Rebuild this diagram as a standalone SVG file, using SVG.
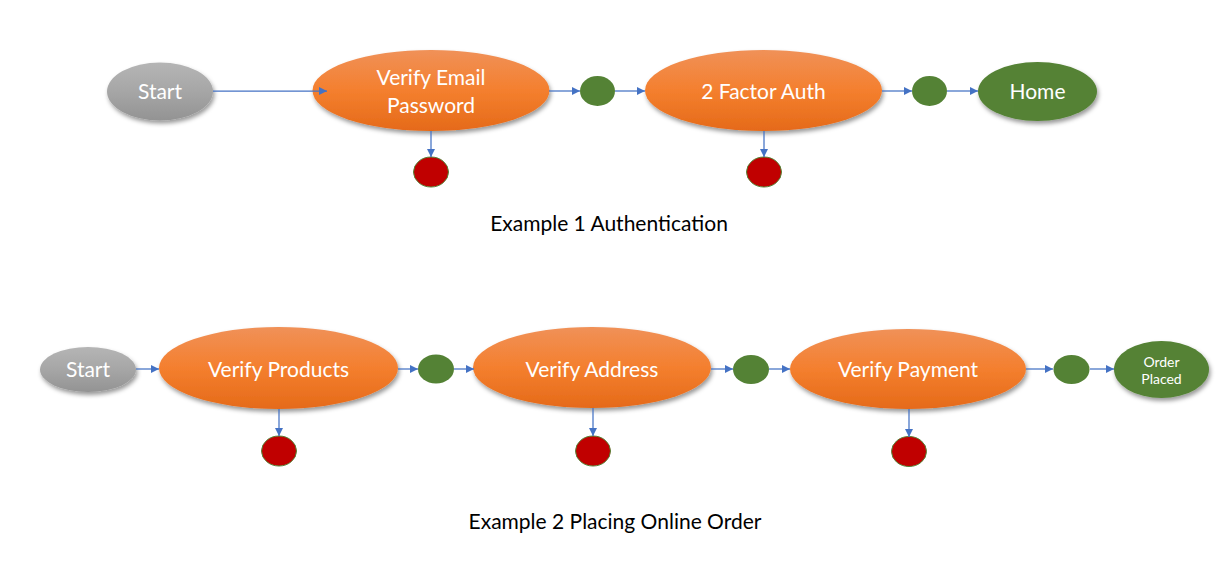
<svg xmlns="http://www.w3.org/2000/svg" width="1226" height="580" viewBox="0 0 1226 580">
<defs>
  <linearGradient id="gOrange" x1="0" y1="0" x2="0" y2="1">
    <stop offset="0" stop-color="#f09158"/>
    <stop offset="0.5" stop-color="#f47f2e"/>
    <stop offset="1" stop-color="#e56a19"/>
  </linearGradient>
  <linearGradient id="gGrey" x1="0" y1="0" x2="0" y2="1">
    <stop offset="0" stop-color="#b5b5b5"/>
    <stop offset="0.5" stop-color="#a6a6a6"/>
    <stop offset="1" stop-color="#939393"/>
  </linearGradient>
  <filter id="shadow" x="-20%" y="-30%" width="140%" height="170%">
    <feDropShadow dx="1.5" dy="3" stdDeviation="2.2" flood-color="#000" flood-opacity="0.4"/>
  </filter>
  <marker id="arr" viewBox="0 0 10 10" refX="10" refY="5" markerWidth="8" markerHeight="8" markerUnits="userSpaceOnUse" orient="auto">
    <path d="M0,0 L10,5 L0,10 z" fill="#4472c4"/>
  </marker>
</defs>
<style>
  .orange { fill: url(#gOrange); filter: url(#shadow); }
  .grey { fill: url(#gGrey); filter: url(#shadow); }
  .endg { fill: #548235; filter: url(#shadow); }
  .dot { fill: #548235; }
  .fail { fill: #c00000; stroke: #548235; stroke-width: 1; }
  .lbl { font-family: Lato, "Open Sans", "Liberation Sans", sans-serif; fill: #ffffff; text-anchor: middle; font-size: 21px; }
  .small { font-size: 14px; }
  .title { font-family: Lato, "Open Sans", "Liberation Sans", sans-serif; fill: #000000; text-anchor: middle; font-size: 21px; }
  .conn line { stroke: #4472c4; stroke-width: 1.25; marker-end: url(#arr); }
</style>

<!-- Example 1 -->
<g id="start1"><ellipse class="grey" cx="160" cy="91.5" rx="53" ry="29"/><text class="lbl" x="160" y="99">Start</text></g>
<g id="verifyEmail"><ellipse class="orange" cx="431" cy="90.5" rx="118.5" ry="40.5"/><text class="lbl" x="431" y="85">Verify Email</text><text class="lbl" x="431" y="112.5">Password</text></g>
<g id="ok1"><ellipse class="dot" cx="597.5" cy="91" rx="17.5" ry="15"/></g>
<g id="fail1"><ellipse class="fail" cx="431" cy="172" rx="17.5" ry="15"/></g>
<g id="twoFactor"><ellipse class="orange" cx="763.5" cy="90.5" rx="118.5" ry="40.5"/><text class="lbl" x="763.5" y="99">2 Factor Auth</text></g>
<g id="ok2"><ellipse class="dot" cx="929.5" cy="91" rx="17.5" ry="15"/></g>
<g id="fail2"><ellipse class="fail" cx="764" cy="172" rx="17.5" ry="15"/></g>
<g id="home"><ellipse class="endg" cx="1037.5" cy="91.5" rx="59.5" ry="29.5"/><text class="lbl" x="1037.5" y="99">Home</text></g>
<text class="title" x="609" y="231">Example 1 Authentication</text>

<!-- Example 2 -->
<g id="start2"><ellipse class="grey" cx="88" cy="369.5" rx="48" ry="22.5"/><text class="lbl" x="88" y="377">Start</text></g>
<g id="verifyProducts"><ellipse class="orange" cx="278.5" cy="368" rx="119.5" ry="41"/><text class="lbl" x="278.5" y="377">Verify Products</text></g>
<g id="ok3"><ellipse class="dot" cx="436" cy="369" rx="18" ry="14.5"/></g>
<g id="fail3"><ellipse class="fail" cx="279" cy="451" rx="17.5" ry="15"/></g>
<g id="verifyAddress"><ellipse class="orange" cx="592" cy="367.5" rx="119" ry="40.5"/><text class="lbl" x="592" y="377">Verify Address</text></g>
<g id="ok4"><ellipse class="dot" cx="751" cy="369.5" rx="18" ry="14.5"/></g>
<g id="fail4"><ellipse class="fail" cx="593" cy="451" rx="17.5" ry="15"/></g>
<g id="verifyPayment"><ellipse class="orange" cx="908" cy="369" rx="118" ry="40"/><text class="lbl" x="908" y="377">Verify Payment</text></g>
<g id="ok5"><ellipse class="dot" cx="1071.5" cy="369.5" rx="18" ry="14.5"/></g>
<g id="fail5"><ellipse class="fail" cx="909" cy="451.5" rx="17.5" ry="15"/></g>
<g id="orderPlaced"><ellipse class="endg" cx="1161.5" cy="369.5" rx="47.5" ry="28.5"/><text class="lbl small" x="1161.5" y="366.5">Order</text><text class="lbl small" x="1161.5" y="383.5">Placed</text></g>
<text class="title" x="615" y="529">Example 2 Placing Online Order</text>

<g class="conn">
  <!-- row 1 -->
  <line x1="213" y1="91" x2="327" y2="91"/>
  <line x1="549" y1="91" x2="580" y2="91"/>
  <line x1="615" y1="91" x2="645" y2="91"/>
  <line x1="882" y1="91" x2="912" y2="91"/>
  <line x1="947" y1="91" x2="978" y2="91"/>
  <line x1="431" y1="131" x2="431" y2="157"/>
  <line x1="764" y1="131" x2="764" y2="157"/>
  <!-- row 2 -->
  <line x1="136" y1="369" x2="159" y2="369"/>
  <line x1="398" y1="369" x2="418" y2="369"/>
  <line x1="454" y1="369" x2="474" y2="369"/>
  <line x1="711" y1="369" x2="733" y2="369"/>
  <line x1="769" y1="369" x2="790" y2="369"/>
  <line x1="1026" y1="369" x2="1053" y2="369"/>
  <line x1="1090" y1="369" x2="1114" y2="369"/>
  <line x1="279" y1="409" x2="279" y2="436"/>
  <line x1="593" y1="408" x2="593" y2="436"/>
  <line x1="909" y1="409" x2="909" y2="437"/>
</g>
</svg>
